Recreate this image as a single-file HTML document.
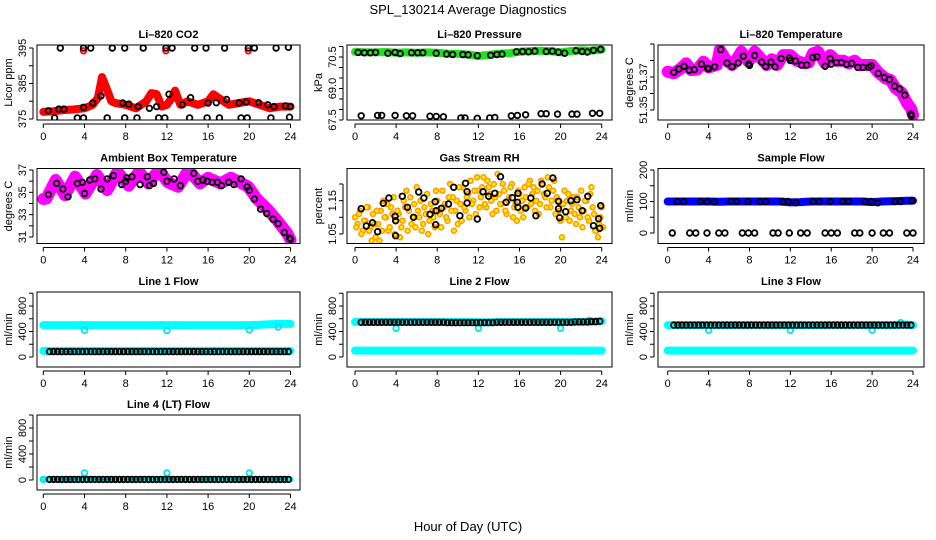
<!DOCTYPE html>
<html><head><meta charset="utf-8">
<style>
html,body{margin:0;padding:0;background:#fff;}
svg{display:block;font-family:"Liberation Sans",Arial,sans-serif;}
</style></head>
<body>
<svg id="chart" width="936" height="540" viewBox="0 0 936 540">
<text x="468" y="14" text-anchor="middle" font-size="13">SPL_130214  Average Diagnostics</text>
<text x="468" y="531" text-anchor="middle" font-size="13">Hour of Day (UTC)</text>
</svg>
<script>
// ---------- DATA ----------
const xTickVals = [0,4,8,12,16,20,24];
// CO2
const co2LineHours = [0,1,2,3,4,4.8,5.3,5.7,6.1,6.6,7,8,9,10,10.5,11,11.5,12,12.5,12.8,13.3,14,15,16,16.5,17,18,19,20,21,22,23,24];
const co2LineVals  = [377,377.2,377.5,377.7,378,379,381,386.8,384,380,379.5,379,378,380,382.3,382,378.5,379,381,383,379,380,379,380,382,381,379,379.5,380,379,378,378.5,378.5];
const co2CircHours = [0.5,1.5,2,3.9,4.8,5.6,7.7,8.3,9.2,10.3,11,12.2,13.5,14.3,16,16.8,17.8,19,19.7,20.9,21.8,22.4,23.5,24, 1.65,3.9,4.6,6.7,7.9,9.7,11.9,12.5,14.7,15.8,17.6,19.9,20.5,22.6,23.8, 1.1,3.3,3.9,6.2,7.9,9.1,11.2,11.8,14.2,15.9,17.1,19.2,19.8,22.1,23.9];
const co2CircVals  = [377.3,377.8,377.8,378.3,379.5,381.5,379.5,379.2,378.5,378,378.5,382,379,381,379.5,379.6,380.5,379.5,379.8,379.6,379,378.5,378.7,378.5, 395,395,395,395,395,395,395,395,395,395,395,395,395,395,395.2, 375.3,375.3,375.3,375.3,375.3,375.3,375.3,375.3,375.3,375.3,375.3,375.3,375.3,375.3,375.5];
const co2RedHighHours = [3.9,11.9,19.9];
const co2RedHighVals = [394.2,394.2,394.2];
// Pressure
const presLineVals = [70.75,70.73,70.72,70.74,70.7,70.72,70.7,70.72,70.7,70.66,70.65,70.62,70.55,70.6,70.66,70.68,70.75,70.78,70.8,70.78,70.72,70.78,70.82,70.8,70.85];
const presCircHours = [0.3,0.9,1.5,2.0,3.2,3.9,4.4,5.5,6.1,6.6,7.9,8.9,9.5,10.5,11.0,11.9,13.2,13.8,14.3,15.7,16.3,16.9,17.5,18.6,19.2,19.8,20.4,21.5,22.1,22.6,23.2,23.9, 0.6,2.2,2.6,3.9,5.0,5.6,7.3,7.9,8.6,10.3,10.7,11.9,13.1,13.6,15.2,15.8,16.6,18.1,18.6,19.7,21.1,21.6,23.1,23.8];
const presCircVals = [70.72,70.7,70.7,70.72,70.68,70.72,70.66,70.7,70.7,70.7,70.68,70.64,70.62,70.62,70.6,70.56,70.58,70.62,70.64,70.75,70.76,70.75,70.78,70.76,70.78,70.73,70.68,70.8,70.76,70.74,70.82,70.86, 67.7,67.72,67.72,67.72,67.7,67.7,67.68,67.67,67.65,67.6,67.6,67.58,67.6,67.62,67.7,67.72,67.75,67.8,67.8,67.78,67.78,67.78,67.82,67.82];
// Li-820 temperature
const ltLineHours = [0,0.6,1.3,1.8,2.3,2.9,3.5,4.0,4.8,5.1,5.7,6.3,6.7,7.2,7.9,8.5,9.2,9.7,10.2,10.7,11.3,12.0,12.6,13.3,13.8,14.2,14.7,15.4,15.9,16.5,17.2,17.7,18.3,18.8,19.5,20.0,20.6,21.3,21.8,22.3,22.9,23.4,23.8,24.0];
const ltLineVals  = [51.3732,51.3722,51.3753,51.3783,51.3742,51.3746,51.3793,51.3759,51.3773,51.3864,51.3803,51.3773,51.3803,51.3854,51.3793,51.3854,51.3807,51.3773,51.3807,51.3773,51.3833,51.3833,51.3799,51.3783,51.3787,51.3843,51.3854,51.3783,51.3833,51.3799,51.3799,51.3783,51.3799,51.3773,51.3773,51.3773,51.3728,51.3692,51.3682,51.3631,51.3605,51.3544,51.3510,51.3470];
const ltCircHours = [0.6,1.1,1.6,2.1,2.6,3.3,3.9,4.0,4.6,5.2,5.8,6.3,6.9,7.4,7.9,8.0,8.5,9.2,9.6,10.1,10.5,11.1,11.9,12.0,12.5,13.1,13.6,14.2,14.6,15.4,15.9,16.0,16.5,17.0,17.5,18.0,18.6,19.1,19.7,19.9,20.6,21.2,21.7,22.2,22.7,23.2,23.8,23.85];
const ltCircVals  = [51.3728,51.3749,51.3765,51.3742,51.3745,51.3778,51.3753,51.375,51.3762,51.3866,51.3785,51.3763,51.3785,51.3826,51.378,51.377,51.383,51.379,51.3763,51.379,51.3762,51.3812,51.3815,51.38,51.3797,51.3772,51.3773,51.3818,51.3823,51.3765,51.3812,51.3778,51.3787,51.3788,51.3777,51.3783,51.3758,51.3758,51.376,51.3768,51.3722,51.3697,51.3685,51.3645,51.3627,51.359,51.3476,51.3465];
// Ambient
const ambLineHours = [0,0.3,1.2,2.1,3.1,4.1,5.2,6.2,7.2,8.3,9.3,10.2,11.2,12.1,13.1,14.1,15.2,16.0,17.2,18.2,19.1,19.9,20.7,21.7,22.7,23.7,24];
const ambLineVals  = [34.4,34.45,36.1,34.75,36.4,34.9,36.55,35.2,36.85,35.6,36.85,35.8,37.0,35.9,35.5,37.0,35.8,36.3,35.8,36.3,35.9,35.5,34.45,33.55,32.5,31.3,30.75];
const ambCircHours = [0.5,1.3,1.9,2.4,3.3,3.8,4.0,4.5,5.0,5.6,6.2,6.8,7.6,8.0,8.1,8.6,9.4,10.1,10.3,10.7,11.7,12.0,12.7,13.3,14.6,15.0,15.5,15.9,16.4,16.9,17.3,18.0,18.5,19.2,19.8,20.0,20.5,21.1,21.7,22.3,22.8,23.4,23.9,24];
const ambCircVals  = [34.8,35.8,35.3,34.6,35.8,35.9,34.9,36.1,36.2,35.3,36.2,36.5,35.7,36.0,36.3,36.4,35.7,36.4,35.6,35.8,36.8,36.0,36.2,35.6,36.7,36.0,36.1,36.0,35.9,35.9,35.6,35.9,35.7,36.2,35.5,35.2,34.4,33.5,33.1,32.6,32.2,31.4,30.9,30.8];
// Gas stream RH
const rhValsA = [1.10,1.08,1.12,1.06,1.09,1.13,1.07,1.11,1.04, 1.08,1.12,1.15,1.10,1.06,1.13,1.16,1.09, 1.11,1.07,1.15,1.18,1.12,1.08,1.14,1.19, 1.10,1.06,1.13,1.17,1.09,1.12,1.07,1.15, 1.11,1.18,1.14,1.09,1.20,1.16,1.12,1.08, 1.14,1.19,1.12,1.17,1.21,1.15,1.11,1.18, 1.16,1.22,1.13,1.19,1.15,1.20,1.12,1.17, 1.14,1.18,1.11,1.16,1.20,1.13,1.09,1.17, 1.15,1.19,1.13,1.21,1.17,1.12,1.18,1.14, 1.20,1.16,1.22,1.13,1.18,1.11,1.15,1.09, 1.14,1.10,1.17,1.12,1.16,1.08,1.13,1.18, 1.12,1.15,1.09,1.19,1.11,1.06,1.08,1.13];
const rhValsB = [1.07,1.11,1.05,1.09,1.13,1.06,1.03,1.08,1.12, 1.03,1.06,1.10,1.14,1.07,1.11,1.05,1.12, 1.04,1.09,1.13,1.06,1.16,1.10,1.07,1.12, 1.15,1.08,1.11,1.05,1.14,1.10,1.18,1.12, 1.07,1.13,1.10,1.16,1.12,1.06,1.15,1.19, 1.09,1.13,1.16,1.10,1.14,1.18,1.22,1.13, 1.19,1.14,1.21,1.17,1.11,1.16,1.23,1.14, 1.20,1.12,1.15,1.19,1.10,1.14,1.18,1.12, 1.10,1.16,1.20,1.14,1.19,1.15,1.11,1.21, 1.17,1.13,1.19,1.15,1.21,1.16,1.12,1.04, 1.18,1.15,1.09,1.14,1.11,1.16,1.10,1.07, 1.15,1.10,1.17,1.13,1.06,1.04,1.10,1.07];
const rhCircHours = [0.6,1.1,1.7,2.2,2.75,3.3,3.9,3.95,3.95,4.6,5.1,5.7,6.2,6.7,7.3,7.8,7.9,7.85,8.4,9.1,9.6,10.2,10.75,10.9,10.9,11.9,12.45,13.0,13.6,14.15,14.7,15.3,15.8,15.85,15.85,16.6,17.1,17.6,18.2,18.7,19.25,19.8,19.8,19.9,20.5,21.0,21.6,22.1,22.65,23.2,23.7,23.8,23.9];
const rhCircVals  = [1.126,1.074,1.084,1.057,1.142,1.158,1.103,1.09,1.045,1.163,1.13,1.10,1.176,1.158,1.109,1.147,1.12,1.078,1.127,1.14,1.19,1.105,1.202,1.143,1.177,1.095,1.177,1.163,1.172,1.222,1.145,1.159,1.145,1.172,1.13,1.128,1.158,1.105,1.2,1.172,1.218,1.148,1.126,1.099,1.117,1.15,1.153,1.12,1.163,1.075,1.096,1.067,1.135];
// Sample flow
const sampLineVals = [100,100,100,100,100,99,100,100,100,100,100,100,97,98,100,100,100,100,100,100,98,100,101,102,103];
const sampCircHours = [0.95,1.55,3.2,3.85,4.55,6.2,6.75,7.85,9.05,9.6,11.25,11.8,12.55,14.2,14.8,15.9,17.1,17.7,19.3,19.9,20.55,22.2,22.8,23.9, 0.45,2.15,2.75,3.85,5.0,5.6,7.3,7.9,8.5,10.3,10.8,11.9,13.0,13.65,15.4,16.0,16.6,18.3,18.8,20.0,21.1,21.7,23.4,24.0];
const sampCircVals  = [100,100,100,100,99,100,100,100,100,100,100,100,96,100,100,100,100,100,100,100,96,100,100,102, 0,0,0,0,0,0,0,0,0,0,0,0,0,0,0,0,0,0,0,0,0,0,0,0];
// Line flows
const l1HighVals = [500,500,500,500,500,500,500,500,500,500,500,500,500,500,500,500,500,500,500,500,500,505,515,520,520];
const l1LowVals  = [95,95,95,95,95,95,95,95,95,95,95,95,95,95,95,95,95,95,95,95,95,95,95,95,95];
const l1Black = [85,85,85,85,85,85,85,85,85,85,85,85,85,85,85,85,85,85,85,85,85,85,85,85,85,85,85,85,85,85,85,85,85,85,85,85,85,85,85,85,85,85,85,85,85,85,85,85,85,85,85,85,85,85,85,85,85,85,85];
const l1DipHours = [4,12,20,22.8];
const l1DipVals = [420,415,425,470];
const l2HighVals = [550,550,550,550,550,550,550,550,550,550,550,550,545,545,550,550,550,550,550,550,550,550,550,555,560];
const l2LowVals  = [100,100,100,100,100,100,100,100,100,100,100,100,100,100,100,100,100,100,100,100,100,100,100,100,100];
const l2Black = [545,545,545,545,545,545,545,545,545,545,545,545,545,545,545,545,545,545,545,545,545,540,540,540,540,540,540,540,540,540,540,540,540,545,545,545,545,545,545,545,545,545,545,545,545,545,545,545,545,545,545,545,550,550,550,550,555,555,560];
const l2DipHours = [4,12,20,22.8];
const l2DipVals = [450,450,450,575];
const l3HighVals = [500,500,500,500,500,500,500,500,500,500,500,500,500,500,500,500,500,500,500,500,500,500,500,510,500];
const l3LowVals  = [100,100,100,100,100,100,100,100,100,100,100,100,100,100,100,100,100,100,100,100,100,100,100,100,100];
const l3Black = [500,500,500,500,500,500,500,500,500,500,500,500,500,500,500,500,500,500,500,500,500,500,500,500,500,500,500,500,500,500,500,500,500,500,500,500,500,500,500,500,500,500,500,500,500,500,500,500,500,500,500,500,500,500,500,500,500,500,500];
const l3DipHours = [4,12,20,22.8];
const l3DipVals = [420,420,420,540];
const l4LowVals = [10,10,10,10,10,10,10,10,10,10,10,10,10,10,10,10,10,10,10,10,10,10,10,10,10];
const l4Black = [10,10,10,10,10,10,10,10,10,10,10,10,10,10,10,10,10,10,10,10,10,10,10,10,10,10,10,10,10,10,10,10,10,10,10,10,10,10,10,10,10,10,10,10,10,10,10,10,10,10,10,10,10,10,10,10,10,10,10];
const l4DipHours = [0,4,12,20];
const l4DipVals = [10,110,110,110];

// ---------- LAYOUT ----------
const NS = "http://www.w3.org/2000/svg";
const svg = document.getElementById('chart');
const COLX = [37,347,658], COLW = [263,265,266];
const ROWY = [45,168.5,292,415], BOXH = 75;
const X0 = [43.3,355,667.7], XS = [10.3,10.28,10.22];

function mk(tag, attrs, parent){ const e=document.createElementNS(NS,tag); for(const k in attrs) e.setAttribute(k,attrs[k]); (parent||svg).appendChild(e); return e; }

function panel(cfg){
  const g = mk('g',{});
  
  
  const bx=COLX[cfg.col], bw=COLW[cfg.col], by=ROWY[cfg.row];
  const [va,pa,vb,pb]=cfg.yref;
  const y = v => pa + (v-va)*(pb-pa)/(vb-va);
  const x = h => X0[cfg.col] + h*XS[cfg.col];
  const clip = mk('clipPath',{id:'clip-'+cfg.name}, g);
  mk('rect',{x:bx,y:by,width:bw,height:BOXH}, clip);
  const plot = mk('g',{'clip-path':'url(#clip-'+cfg.name+')'}, g);
  
  
  cfg.y=y; cfg.x=x; cfg.plot=plot;
  const t = mk('text',{x:bx+bw/2,y:by-7,'text-anchor':'middle','font-size':11,'font-weight':'bold'}, g);
  t.textContent = cfg.title;
  
  
  const ya = mk('g',{}, g);
  
  
  const tk=cfg.yticks;
  mk('line',{x1:bx-4,x2:bx-4,y1:y(tk[0]),y2:y(tk[tk.length-1]),stroke:'#000','stroke-width':1}, ya);
  tk.forEach(v=>{ mk('line',{x1:bx-8,x2:bx-4,y1:y(v),y2:y(v),stroke:'#000','stroke-width':1}, ya); });
  cfg.ylabels.forEach(v=>{
    const s = cfg.fmt? cfg.fmt(v) : String(v);
    const lt = mk('text',{x:0,y:0,'text-anchor':'middle','font-size':11,transform:'translate('+(bx-11)+','+y(v)+') rotate(-90)'}, ya);
    lt.textContent = s;
    
    
  });
  const yt = mk('text',{x:0,y:0,'text-anchor':'middle','font-size':11,transform:'translate('+(bx-25)+','+(by+BOXH/2)+') rotate(-90)'}, ya);
  yt.textContent = cfg.ylab;
  
  
  const xa = mk('g',{}, g);
  
  
  const yb = by+BOXH+4;
  mk('line',{x1:x(0),x2:x(24),y1:yb,y2:yb,stroke:'#000','stroke-width':1}, xa);
  xTickVals.forEach(h=>{
    mk('line',{x1:x(h),x2:x(h),y1:yb,y2:yb+4,stroke:'#000','stroke-width':1}, xa);
    const lt = mk('text',{x:x(h),y:by+BOXH+20,'text-anchor':'middle','font-size':11}, xa);
    lt.textContent = h;
    
    
  });
  cfg.g=g; cfg.box=[bx,by,bw];
  return cfg;
}
function finishBox(cfg){
  const r = mk('rect',{x:cfg.box[0],y:cfg.box[1],width:cfg.box[2],height:BOXH,fill:'none',stroke:'#000','stroke-width':1}, cfg.g);
  
  
}
function band(cfg, hours, vals, color, w, name){
  const pts = hours.map((h,i)=>cfg.x(h).toFixed(1)+','+cfg.y(vals[i]).toFixed(1)).join(' ');
  const p = mk('polyline',{points:pts,fill:'none',stroke:color,'stroke-width':w,'stroke-linejoin':'round','stroke-linecap':'round'}, cfg.plot);
  
  
}
function circles(cfg, hours, vals, color, name, fill, r, sw){
  hours.forEach((h,i)=>{
    const c = mk('circle',{cx:cfg.x(h).toFixed(1),cy:cfg.y(vals[i]).toFixed(1),r:r||2.8,fill:fill||'none',stroke:color,'stroke-width':sw||1.8}, cfg.plot);
    
    
  });
}
const hourly = []; for(let i=0;i<=24;i++) hourly.push(i);
const dense = []; for(let i=0;i<59;i++) dense.push(0.6+i*0.4);
const rhHoursA = []; for(let i=0;i<97;i++) rhHoursA.push(i*0.25);
const rhHoursB = []; for(let i=0;i<97;i++) rhHoursB.push(i*0.25+0.125);

const flowTicks=[0,200,400,600,800,1000], flowLabels=[0,400,800];

let p = panel({name:'co2-panel',title:'Li\u2013820 CO2',col:0,row:0,yref:[375,119,395,48],yticks:[375,380,385,390,395],ylabels:[375,385,395],ylab:'Licor ppm'});
band(p, co2LineHours, co2LineVals, '#ff0000', 8, 'co2-red-series');
circles(p, co2RedHighHours, co2RedHighVals, '#ff0000', 'co2-red-point');
circles(p, co2CircHours, co2CircVals, '#000', 'co2-black-point');
finishBox(p);
p = panel({name:'pressure-panel',title:'Li\u2013820 Pressure',col:1,row:0,yref:[67.5,120,70.5,57],yticks:[67.5,68,68.5,69,69.5,70,70.5,71],ylabels:[67.5,69.0,70.5],fmt:v=>v.toFixed(1),ylab:'kPa'});
band(p, hourly, presLineVals, '#22e022', 8, 'pressure-green-series');
circles(p, presCircHours, presCircVals, '#000', 'pressure-black-point');
finishBox(p);
p = panel({name:'li820-temp-panel',title:'Li\u2013820 Temperature',col:2,row:0,yref:[51.35,110,51.37,77],yticks:[51.35,51.36,51.37,51.38,51.39],ylabels:[51.35,51.37],fmt:v=>v.toFixed(2),ylab:'degrees C'});
band(p, ltLineHours, ltLineVals, '#ff00ff', 12, 'li820-temp-magenta-series');
circles(p, ltCircHours, ltCircVals, '#000', 'li820-temp-black-point');
finishBox(p);
p = panel({name:'ambient-temp-panel',title:'Ambient Box Temperature',col:0,row:1,yref:[31,237,37,170],yticks:[31,32,33,34,35,36,37],ylabels:[31,33,35,37],ylab:'degrees C'});
band(p, ambLineHours, ambLineVals, '#ff00ff', 12, 'ambient-temp-magenta-series');
circles(p, ambCircHours, ambCircVals, '#000', 'ambient-temp-black-point');
finishBox(p);
p = panel({name:'rh-panel',title:'Gas Stream RH',col:1,row:1,yref:[1.05,234,1.20,184],yticks:[1.05,1.10,1.15,1.20],ylabels:[1.05,1.15],fmt:v=>v.toFixed(2),ylab:'percent'});
circles(p, rhHoursA, rhValsA, '#ff9900', 'rh-orange-point', '#ffee00', 2.5, 1.5);
circles(p, rhHoursB, rhValsB, '#ff9900', 'rh-orange-point', '#ffee00', 2.5, 1.5);
circles(p, rhCircHours, rhCircVals, '#000', 'rh-black-point');
finishBox(p);
p = panel({name:'sample-flow-panel',title:'Sample Flow',col:2,row:1,yref:[0,233,200,170],yticks:[0,50,100,150,200],ylabels:[0,100,200],ylab:'ml/min'});
band(p, hourly, sampLineVals, '#0000ff', 8, 'sample-flow-blue-series');
circles(p, sampCircHours, sampCircVals, '#000', 'sample-flow-black-point');
finishBox(p);
p = panel({name:'line1-flow-panel',title:'Line 1 Flow',col:0,row:2,yref:[0,357,800,306],yticks:flowTicks,ylabels:flowLabels,ylab:'ml/min'});
band(p, hourly, l1HighVals, '#00ffff', 8, 'line1-cyan-high-series');
band(p, hourly, l1LowVals, '#00ffff', 8, 'line1-cyan-low-series');
circles(p, l1DipHours, l1DipVals, '#00e5ee', 'line1-cyan-point');
circles(p, dense, l1Black, '#000', 'line1-black-point');
finishBox(p);
p = panel({name:'line2-flow-panel',title:'Line 2 Flow',col:1,row:2,yref:[0,357,800,306],yticks:flowTicks,ylabels:flowLabels,ylab:'ml/min'});
band(p, hourly, l2HighVals, '#00ffff', 8, 'line2-cyan-high-series');
band(p, hourly, l2LowVals, '#00ffff', 8, 'line2-cyan-low-series');
circles(p, l2DipHours, l2DipVals, '#00e5ee', 'line2-cyan-point');
circles(p, dense, l2Black, '#000', 'line2-black-point');
finishBox(p);
p = panel({name:'line3-flow-panel',title:'Line 3 Flow',col:2,row:2,yref:[0,357,800,306],yticks:flowTicks,ylabels:flowLabels,ylab:'ml/min'});
band(p, hourly, l3HighVals, '#00ffff', 8, 'line3-cyan-high-series');
band(p, hourly, l3LowVals, '#00ffff', 8, 'line3-cyan-low-series');
circles(p, l3DipHours, l3DipVals, '#00e5ee', 'line3-cyan-point');
circles(p, dense, l3Black, '#000', 'line3-black-point');
finishBox(p);
p = panel({name:'line4-flow-panel',title:'Line 4 (LT) Flow',col:0,row:3,yref:[0,480,800,428],yticks:flowTicks,ylabels:flowLabels,ylab:'ml/min'});
band(p, hourly, l4LowVals, '#00ffff', 6, 'line4-cyan-series');
circles(p, l4DipHours, l4DipVals, '#00e5ee', 'line4-cyan-point');
circles(p, dense, l4Black, '#000', 'line4-black-point');
finishBox(p);
</script>
</body></html>
